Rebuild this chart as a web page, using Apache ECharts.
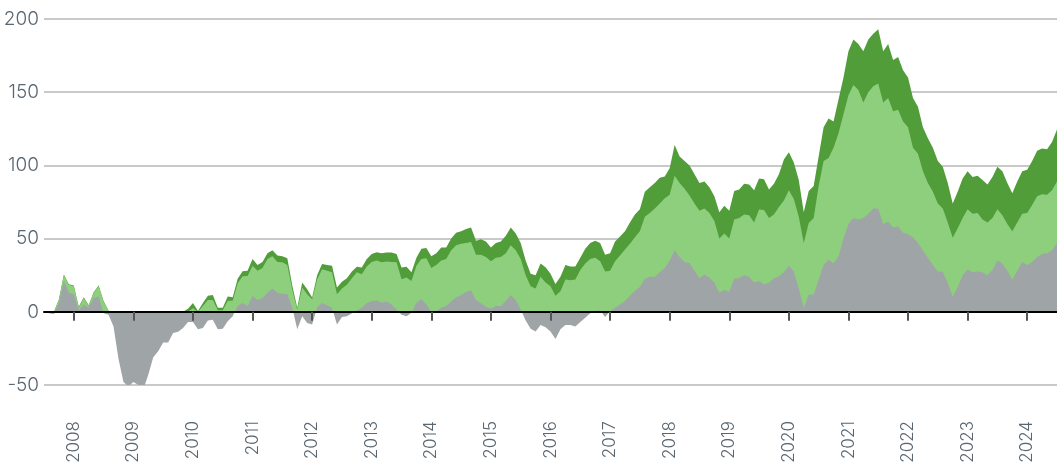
<!DOCTYPE html>
<html><head><meta charset="utf-8">
<script src="https://cdn.jsdelivr.net/npm/echarts@6/dist/echarts.min.js"></script>
<style>html,body{margin:0;padding:0;background:#fff}#c{width:1057px;height:468px}</style>
</head><body><div id="c"></div>
<script>
// monthly categories Jul 2007 .. Jul 2024
const months = [];
for (let y = 2007, m = 7; !(y === 2024 && m === 8);) {
  months.push(y + '-' + (m < 10 ? '0' : '') + m);
  m++; if (m > 12) { m = 1; y++; }
}
const yTicks = [-50, 0, 50, 100, 150, 200];

// level of the grey area (can be negative)
const greyLevel = [
  null, -1, -1.5, 6, 21, 13, 12, 1, 5, 3,
  9.5, 10.5, -1, -2, -10, -32, -48, -51, -48, -50,
  -53, -43, -31, -27, -21, -21, -14.5, -13.6, -11, -7,
  -7, -12, -11, -6, -5.5, -12, -11.5, -6.5, -3, 4,
  6, 4, 10.8, 8, 9.5, 13, 16, 13, 12.4, 12,
  2.8, -12, -3, -7.6, -8.7, 3, 6, 4.5, 2.8, -8.7,
  -3.5, -3, -1, 1, 2.8, 6, 7.4, 7.8, 6.2, 7,
  5, 1.6, -2, -3, -0.7, 6.2, 8.5, 5, 0, 0.5,
  2.8, 4, 7, 10, 11.5, 13.5, 14.7, 8, 5.8, 3.5,
  2.3, 3.9, 3.9, 7.5, 11.5, 8, 1.5, -6, -11.5, -13.5,
  -9, -10.5, -13.5, -18.5, -12, -9, -9, -10, -7, -4,
  -1, 0.5, 1, -3.5, 0.5, 2.7, 5, 7.3, 11, 14.3,
  17, 22.5, 24, 24, 27, 30, 35, 42, 37.5, 34,
  33.4, 28, 23, 25.5, 23.5, 20, 13, 15, 13.5, 22.7,
  23, 25, 24, 20, 21, 18.8, 19.8, 23, 24.3, 27,
  31.5, 27.5, 16, 2.7, 11.8, 11.8, 22, 32, 35.5, 33,
  38, 50, 60, 64, 63, 64, 67, 70.5, 70.5, 60,
  61.5, 57.5, 58.4, 54, 53, 51, 47, 42, 37, 32,
  27.5, 27.3, 20, 10.5, 17, 25, 29, 27, 27.5, 27,
  25, 28.5, 35, 33, 28, 22, 28, 34, 32, 34,
  37.5, 39.5, 40, 42, 47
];
// top of the light-green area
const lightGreenLevel = [
  null, 0, 0, 8, 25, 18.5, 17.5, 3, 9.5, 4,
  13, 17.5, 7, 0.5, 0, 0, 0, 0, 0, 0,
  0, 0, 0, 0, 0, 0, 0, 0, 0, 0,
  2.5, 0, 4, 8, 8, 1, 1, 7.5, 7.5, 19.5,
  24.3, 24.5, 31.5, 28, 30, 36, 38, 34, 33.8, 32,
  15, 1.6, 16.6, 12, 8.5, 22, 29, 28, 27, 12,
  16, 18.5, 23, 27, 25.7, 31, 34, 35, 33.8, 34.3,
  34, 33.8, 22.3, 23.4, 21, 31.5, 36, 36.5, 30, 32,
  35, 36, 42, 45.5, 46.5, 47, 47.6, 39, 39, 37.5,
  34.6, 37, 37.5, 40, 45.5, 42, 36, 25, 17.5, 16,
  24, 20, 17.5, 11, 14, 22, 21.5, 22, 28.5, 33,
  36, 37, 34.5, 27.5, 28, 34.5, 38.5, 42.5, 46.5, 51,
  55, 65, 67.5, 70.5, 74, 77.5, 80, 93, 88, 84,
  79.5, 74, 69, 70.5, 67.5, 62, 50, 53.5, 50, 63,
  64, 66.5, 66, 61, 69.8, 69.5, 64, 66.5, 71.5, 76,
  83, 77, 65, 47, 60.7, 64, 86, 103, 105, 112,
  122, 135, 148, 155, 151.5, 143, 150, 154, 156, 143,
  146, 137, 138, 130, 126, 112, 108, 96, 88, 82,
  74, 70.5, 61, 50.5, 57, 64, 70, 67, 67.5, 63,
  61, 64, 70, 66, 60, 55, 61, 67, 67.5, 73,
  79, 80.3, 80, 83, 89
];
// top of the dark-green area
const darkGreenLevel = [
  null, 0, 0, 8.4, 25.4, 18.9, 17.9, 3.4, 9.9, 4.4,
  13.4, 17.9, 7.4, 0.7, 0, 0, 0, 0, 0, 0,
  0, 0, 0, 0, 0, 0, 0, 0, 0, 2,
  6, 0.5, 6, 11, 11.5, 2.7, 2.7, 10.5, 10, 22.5,
  27.7, 28, 36, 32, 34, 40, 42, 38.5, 38, 36.5,
  18, 2.8, 20, 15.4, 9.7, 25, 32.6, 32, 31.5, 16.6,
  20.5, 23, 27.5, 30.8, 30.3, 36, 39.5, 40.7, 40, 40.5,
  40.5, 39.5, 30.3, 30.8, 27, 37, 43, 43.5, 38, 40,
  44, 44, 50, 54, 55, 56.5, 57.5, 48.5, 49.5, 48,
  44, 47, 48, 52, 57.5, 53.5, 47, 35, 26, 25,
  33, 30.5, 26, 19, 24, 32, 31, 31, 37, 43,
  47, 48.5, 47, 39, 40, 48, 51.5, 55, 61, 66.5,
  70, 82, 85, 88, 91.5, 92.5, 98, 114, 106, 103,
  100, 94, 88, 89, 85, 79, 68, 72.5, 69, 82.5,
  83.5, 87.5, 87, 83, 91, 90.5, 83.5, 87.5, 94, 104,
  109, 102, 90, 68, 82.5, 86, 106, 126, 132, 130,
  145, 160, 178, 186, 183, 178, 186, 190, 193, 178,
  183, 172, 174, 165, 160, 146, 140, 126, 118.5, 112,
  103, 99, 88, 74, 82, 91, 96, 92, 93, 90,
  87, 92, 99, 96, 88, 81, 89, 96, 97, 103,
  110, 111.5, 111, 116, 124.5
];

const FONT = 'Inter';
const LABEL_COLOR = '#5a6670';
const isJan = (i, v) => String(v).slice(5) === '01';

function area(name, data, color) {
  return {
    name, type: 'line', data, xAxisIndex: 0, yAxisIndex: 0,
    symbol: 'none', showSymbol: false, connectNulls: false,
    lineStyle: { width: 0, color },
    areaStyle: { color, opacity: 1 },
    itemStyle: { color },
    emphasis: { disabled: true },
    animation: false
  };
}

const chart = echarts.init(document.getElementById('c'), null, { renderer: 'canvas' });
chart.setOption({
  animation: false,
  backgroundColor: '#ffffff',
  grid: { left: 44, right: 0, top: 19, bottom: 83, containLabel: false },
  xAxis: [
    {
      type: 'category', data: months, boundaryGap: false, position: 'bottom',
      axisLine: { show: false, onZero: false },
      axisTick: { show: false },
      splitLine: { show: false },
      axisLabel: {
        interval: isJan, formatter: v => v.slice(0, 4), rotate: 90, margin: 36,
        fontSize: 17, fontFamily: FONT, fontWeight: 300, color: LABEL_COLOR
      }
    },
    {
      type: 'category', data: months, boundaryGap: false, position: 'top', z: 10,
      axisLine: { show: true, onZero: true, lineStyle: { color: '#000', width: 2 } },
      axisTick: { show: true, inside: true, length: 9, interval: isJan, lineStyle: { color: '#555', width: 2 } },
      axisLabel: { show: false },
      splitLine: { show: false }
    }
  ],
  yAxis: {
    type: 'value', min: yTicks[0], max: yTicks[yTicks.length - 1], interval: 50,
    axisLine: { show: false }, axisTick: { show: false },
    axisLabel: { fontSize: 19, fontFamily: FONT, fontWeight: 300, color: LABEL_COLOR, margin: 5 },
    splitLine: { lineStyle: { color: '#c9c9c9', width: 2 } }
  },
  series: [
    area('dark green', darkGreenLevel, '#509d3a'),
    area('light green', lightGreenLevel, '#8ecf7e'),
    area('grey', greyLevel, '#9fa5a7')
  ]
});
</script>
</body></html>
